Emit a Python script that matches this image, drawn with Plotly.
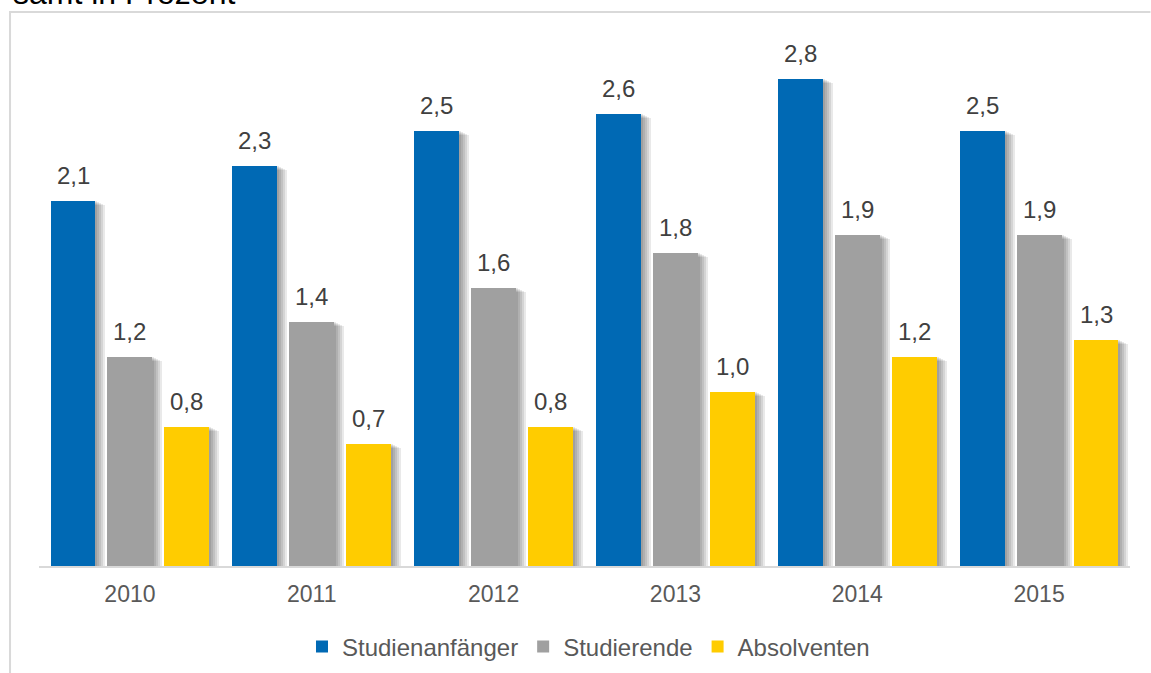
import plotly.graph_objects as go

# Shares by year, in percent
years = ["2010", "2011", "2012", "2013", "2014", "2015"]
series_names = ["Studienanfänger", "Studierende", "Absolventen"]
anfaenger = [2.1, 2.3, 2.5, 2.6, 2.8, 2.5]
studierende = [1.2, 1.4, 1.6, 1.8, 1.9, 1.9]
absolventen = [0.8, 0.7, 0.8, 1.0, 1.2, 1.3]
colors = ["#0069B4", "#A0A0A0", "#FFCC00"]
title_text = "samt in Prozent"

W, H = 1151, 673
M_L, M_R, M_T, M_B = 38.5, 20.5, 44, 107
Y_MAX = 3.0
FONT = "Liberation Sans, Arial, sans-serif"

plot_w = W - M_L - M_R
plot_h = H - M_T - M_B
px_x = 1.0 / (plot_w / len(years))   # one pixel in x data units
px_y = Y_MAX / plot_h                # one pixel in y data units

slot = 0.313        # distance between bar centres inside a group
bar_w = 0.247       # bar width
offsets = [-slot, 0.0, slot]
all_series = [anfaenger, studierende, absolventen]

fig = go.Figure()
xs_base = list(range(len(years)))

# soft drop shadow to the right of each bar, built from stacked translucent bars
for off, vals in zip(offsets, all_series):
    for k in range(1, 6):
        extra = 2 * k * px_x
        left_shift = 3 * px_x
        w = bar_w - left_shift + extra
        centre = [i + off - bar_w / 2 + left_shift + w / 2 for i in xs_base]
        fig.add_trace(go.Bar(
            x=centre,
            y=[v - (k - 1) * px_y for v in vals],
            width=w,
            marker=dict(color="rgba(0,0,0,0.085)", line=dict(width=0)),
            showlegend=False,
            hoverinfo="skip",
        ))

# main bars
for name, off, vals, col in zip(series_names, offsets, all_series, colors):
    fig.add_trace(go.Bar(
        name=name,
        x=[i + off for i in xs_base],
        y=vals,
        width=bar_w,
        marker=dict(color=col, line=dict(width=0)),
    ))

# value labels above the bars
annotations = []
for off, vals in zip(offsets, all_series):
    for i, v in enumerate(vals):
        annotations.append(dict(
            x=i + off, y=v, xref="x", yref="y",
            text=f"{v:.1f}".replace(".", ","),
            showarrow=False, yanchor="bottom", yshift=10,
            font=dict(family=FONT, size=24, color="#404040"),
        ))

# heading, partly outside the canvas
annotations.append(dict(
    x=(10 - M_L) / plot_w, y=(H - M_B - 12.5) / plot_h,
    xref="paper", yref="paper", xanchor="left", yanchor="bottom",
    text=title_text, showarrow=False,
    font=dict(family=FONT, size=32, color="#000000"),
))

# frame around the chart area: left and top edges, stopping at the canvas border
fx0 = (9.5 - M_L) / plot_w
fx1 = (W - M_L) / plot_w
fy0 = (H - M_B - H) / plot_h
fy1 = (H - M_B - 12) / plot_h
frame = dict(
    type="path", xref="paper", yref="paper",
    path=f"M {fx0} {fy0} L {fx0} {fy1} L {fx1} {fy1}",
    line=dict(color="#D9D9D9", width=2), layer="below",
)

fig.update_layout(
    width=W, height=H,
    margin=dict(l=M_L, r=M_R, t=M_T, b=M_B, pad=0, autoexpand=False),
    paper_bgcolor="white", plot_bgcolor="white",
    barmode="overlay",
    bargap=0,
    font=dict(family=FONT, color="#595959"),
    xaxis=dict(
        range=[-0.5, len(years) - 0.5],
        tickvals=xs_base, ticktext=years,
        showgrid=False, zeroline=False,
        showline=True, linecolor="#D9D9D9", linewidth=2,
        ticks="", ticklabelstandoff=6,
        tickfont=dict(size=23, color="#595959"),
        fixedrange=True,
    ),
    yaxis=dict(
        range=[0, Y_MAX], visible=False, fixedrange=True,
    ),
    legend=dict(
        orientation="h", x=(588.5 - M_L) / plot_w, xanchor="center",
        y=(H - M_B - 647) / plot_h, yanchor="middle",
        font=dict(size=24, color="#595959"),
        traceorder="normal",
    ),
    annotations=annotations,
    shapes=[frame],
    showlegend=True,
)

fig.write_html("out.html")
